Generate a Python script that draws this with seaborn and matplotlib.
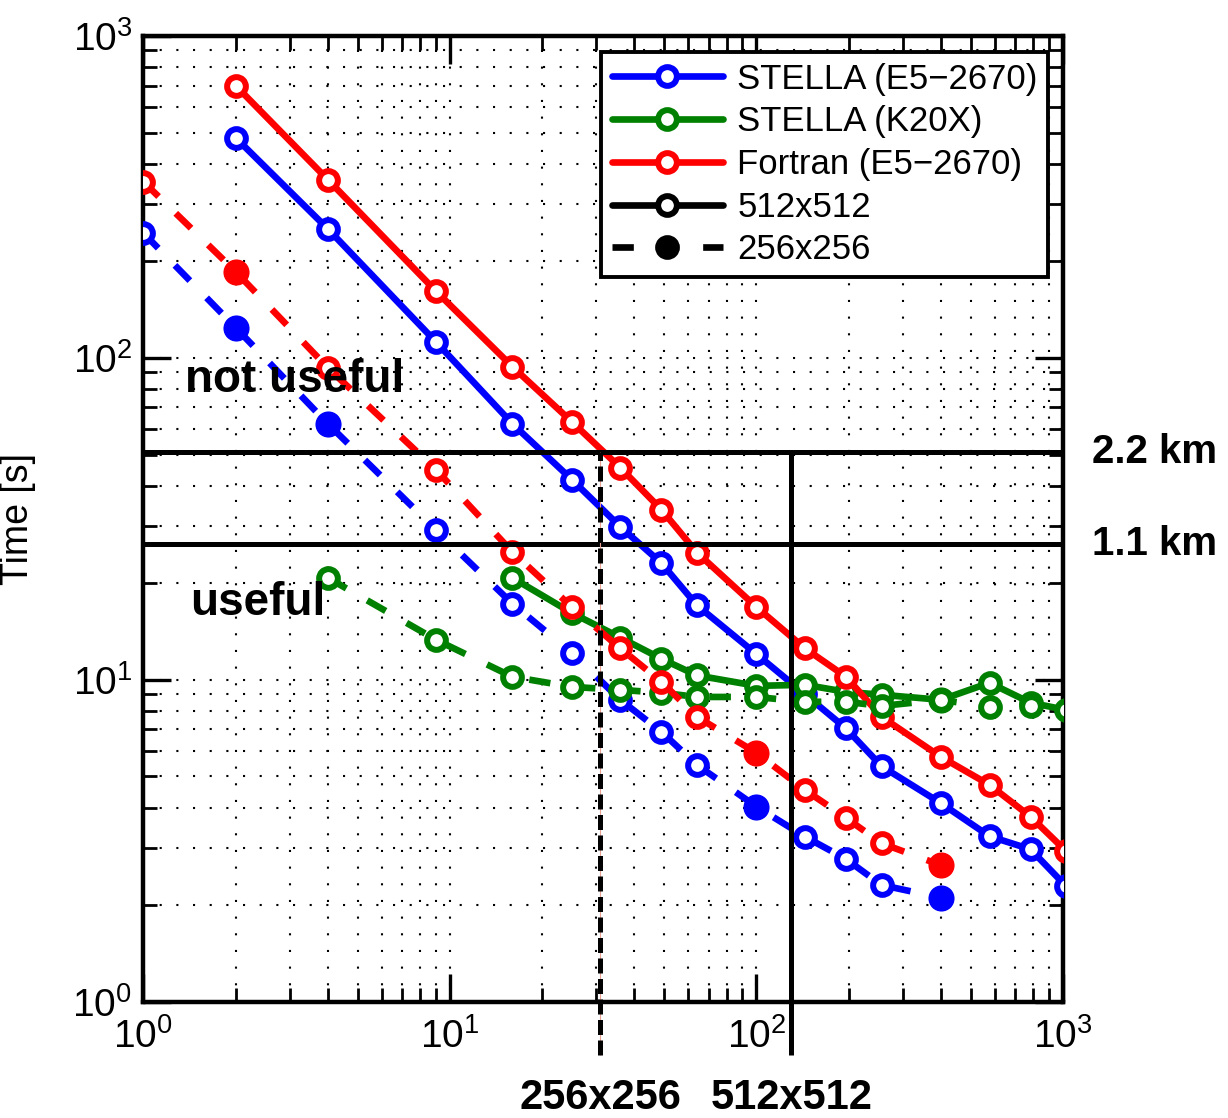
import math
import matplotlib
matplotlib.use("Agg")
import matplotlib.pyplot as plt
import seaborn as sns
from matplotlib.lines import Line2D
from matplotlib.ticker import FuncFormatter, LogLocator, NullFormatter

# processor counts on the x axis
procs = [1, 2, 4, 9, 16, 25, 36, 49, 64, 100, 144, 196, 256, 400, 576, 784, 1024]

# run times [s], 512x512 grid
stella_cpu_512 = [482, 251, 112, 62.3, 41.8, 29.8, 23.0, 17.0, 12.0, 9.0, 7.05, 5.38, 4.13, 3.26, 2.97, 2.28]
stella_gpu_512 = [20.7, 16.1, 13.5, 11.6, 10.3, 9.56, 9.63, 9.16, 8.97, 8.65, 9.77, 8.47, 8.05]
fortran_512 = [700, 357, 161, 93.7, 63.2, 45.5, 33.7, 24.8, 16.8, 12.5, 10.2, 7.66, 5.75, 4.71, 3.75, 2.93]

# run times [s], 256x256 grid
stella_cpu_256 = [244, 124, 62.3, 29.2, 17.2, 12.1, 8.65, 6.88, 5.43, 4.03, 3.25, 2.77, 2.3, 2.1]
stella_gpu_256 = [20.7, 13.3, 10.2, 9.49, 9.29, 9.1, 8.83, 8.83, 8.53, 8.53, 8.28, 8.65, 8.22, 8.3]
fortran_256 = [352, 185, 93, 44.9, 24.9, 16.8, 12.5, 9.84, 7.66, 5.92, 4.54, 3.72, 3.1, 2.65]

# thresholds
km_levels = [51, 26.3]
km_labels = ["2.2 km", "1.1 km"]
grid_procs = [30.9, 130]
grid_labels = ["256x256", "512x512"]

blue, green, red = "#0000ff", "#008000", "#ff0000"
dash_style = (0, (3.2, 3.6))
LW, MS, MEW = 4.8, 13.5, 4.3

sns.set_style("ticks")
plt.rcParams["font.family"] = ["Liberation Sans", "DejaVu Sans"]
plt.rcParams["mathtext.fontset"] = "custom"
plt.rcParams["mathtext.rm"] = "Liberation Sans"
plt.rcParams["mathtext.it"] = "Liberation Sans"
for key in ["text.color", "axes.labelcolor", "xtick.color", "ytick.color", "axes.edgecolor"]:
    plt.rcParams[key] = "black"

fig = plt.figure(figsize=(12.28, 11.18), dpi=100)
ax = fig.add_axes([0.1167, 0.1042, 0.7489, 0.8639])
ax.set_xscale("log")
ax.set_yscale("log")

series = [
    (procs[1:], stella_cpu_512, blue, "-", [], 3),
    (procs[4:], stella_gpu_512, green, "-", [9], 3),
    (procs[1:], fortran_512, red, "-", [], 3),
    (procs[:14], stella_cpu_256, blue, dash_style, [1, 2, 9, 13], 4),
    (procs[2:16], stella_gpu_256, green, dash_style, [], 4),
    (procs[:14], fortran_256, red, dash_style, [1, 9, 13], 4),
]

for xs, ys, col, ls, filled, z in series:
    sns.lineplot(x=xs, y=ys, ax=ax, color=col, marker="o",
                 estimator=None, legend=False)
    line = ax.get_lines()[-1]
    line.set_linewidth(LW)
    line.set_linestyle(ls)
    line.set_markersize(MS)
    line.set_markeredgewidth(MEW)
    line.set_markeredgecolor(col)
    line.set_markerfacecolor("white")
    line.set_zorder(z)
    if filled:
        ax.plot([xs[i] for i in filled], [ys[i] for i in filled], "o",
                color=col, markersize=MS + MEW, zorder=z)

# threshold lines
for lvl in km_levels:
    ax.axhline(lvl, color="black", lw=3.6, zorder=5)
ax.vlines(grid_procs[0], 0.68, km_levels[0], color="#e8a090", lw=0.8,
          clip_on=False, zorder=5)
ax.vlines(grid_procs[0], 0.68, km_levels[0], color="black", lw=3.6,
          linestyles=[(0, (3.0, 1.1))], clip_on=False, zorder=6)
ax.vlines(grid_procs[1], 0.68, km_levels[0], color="black", lw=3.6,
          clip_on=False, zorder=6)

for lvl, lab in zip(km_levels, km_labels):
    ax.text(1.0315, lvl, lab, transform=ax.get_yaxis_transform(),
            fontsize=29, fontweight="bold", va="center", ha="left")
for xv, lab in zip(grid_procs, grid_labels):
    ax.text(xv, -0.1, lab, transform=ax.get_xaxis_transform(),
            fontsize=30, fontweight="bold", va="center", ha="center")

ax.text(1.37, 85, "not useful", fontsize=33, fontweight="bold",
        va="center", ha="left", zorder=10)
ax.text(1.42, 17.3, "useful", fontsize=33, fontweight="bold",
        va="center", ha="left", zorder=10)

ax.set_xlim(1, 1000)
ax.set_ylim(1, 1000)

fmt = FuncFormatter(lambda v, p: r"$\mathregular{10^{%d}}$" % round(math.log10(v)))
for axis in (ax.xaxis, ax.yaxis):
    axis.set_major_locator(LogLocator(base=10, numticks=10))
    axis.set_minor_locator(LogLocator(base=10, subs=range(2, 10), numticks=20))
    axis.set_major_formatter(fmt)
    axis.set_minor_formatter(NullFormatter())

ax.grid(True, which="both", color="black", lw=1.5, linestyle=(0, (1.0, 7.0)), zorder=0)
ax.set_axisbelow(True)
ax.tick_params(which="major", direction="in", length=20, width=2.4,
               top=True, right=True, labelsize=28, colors="black")
ax.tick_params(axis="x", which="major", pad=12)
ax.tick_params(axis="y", which="major", pad=8)
ax.tick_params(which="minor", direction="in", length=10, width=2.0,
               top=True, right=True)
for sp in ax.spines.values():
    sp.set_linewidth(3.2)
    sp.set_color("black")

ax.set_ylabel("Time [s]", fontsize=27)
ax.yaxis.set_label_coords(-0.117, 0.5)


def proxy(col, ls="-", mfc="white"):
    return Line2D([], [], color=col, lw=LW, linestyle=ls, marker="o", ms=MS,
                  mew=MEW, mfc=mfc, mec=col)


handles = [proxy(blue), proxy(green), proxy(red), proxy("black"),
           proxy("black", dash_style, "black")]
labels = ["STELLA (E5\u22122670)", "STELLA (K20X)", "Fortran (E5\u22122670)", "512x512", "256x256"]
leg = ax.legend(handles, labels, loc="upper right", bbox_to_anchor=(0.984, 0.983),
                borderaxespad=0, fontsize=25, handlelength=3.2, handletextpad=0.42,
                labelspacing=0.28, borderpad=0.3, fancybox=False, framealpha=1,
                edgecolor="black")
leg.get_frame().set_linewidth(2.8)
leg.set_zorder(20)

fig.savefig("out.png", dpi=100)
